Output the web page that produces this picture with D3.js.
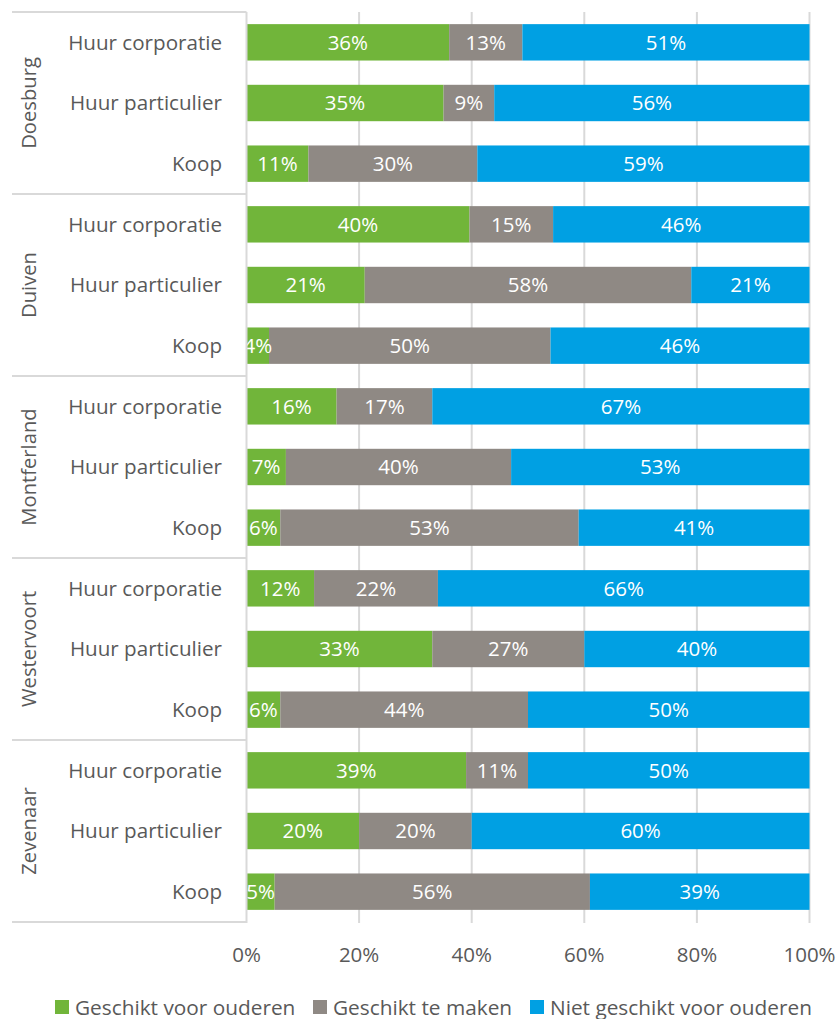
<!DOCTYPE html>
<html>
<head>
<meta charset="utf-8">
<script src="https://cdn.jsdelivr.net/npm/d3@7"></script>
<style>
  html, body { margin: 0; padding: 0; background: #fff; }
  svg text { font-family: "Open Sans", "Noto Sans", sans-serif; }
</style>
</head>
<body>
<svg id="chart" width="839" height="1019"></svg>
<script>
// Woningvoorraad per gemeente en eigendomsvorm: geschiktheid voor ouderen
const gemeenten = ["Doesburg", "Duiven", "Montferland", "Westervoort", "Zevenaar"];
const eigendom = ["Huur corporatie", "Huur particulier", "Koop"];
const reeksen = ["Geschikt voor ouderen", "Geschikt te maken", "Niet geschikt voor ouderen"];
const kleuren = ["#71B53A", "#8F8984", "#00A0E3"];

// Percentages per rij (gemeente × eigendomsvorm), per reeks
const geschikt    = [36, 35, 11, 40, 21, 4, 16, 7, 6, 12, 33, 6, 39, 20, 5];
const teMaken     = [13, 9, 30, 15, 58, 50, 17, 40, 53, 22, 27, 44, 11, 20, 56];
const nietGeschikt = [51, 56, 59, 46, 21, 46, 67, 53, 41, 66, 40, 50, 50, 60, 39];

const tickWaarden = [0, 0.2, 0.4, 0.6, 0.8, 1];

const rows = [];
gemeenten.forEach((g, gi) => {
  eigendom.forEach((e, ei) => {
    const i = gi * 3 + ei;
    rows.push({ key: g + "|" + e, gemeente: g, eigendom: e,
      s0: geschikt[i], s1: teMaken[i], s2: nietGeschikt[i] });
  });
});

const svg = d3.select("#chart");
const plotL = 246.5, plotR = 809.5, plotT = 12, plotB = 922;
const textColor = "#595959";
const gridColor = "#D9D9D9";

const x = d3.scaleLinear().domain([0, 1]).range([plotL, plotR]);
const y = d3.scaleBand().domain(rows.map(r => r.key)).range([plotT, plotB]).paddingInner(0.4).paddingOuter(0.2);
const band = (plotB - plotT) / rows.length;

const stack = d3.stack().keys(["s0", "s1", "s2"]).offset(d3.stackOffsetExpand);
const series = stack(rows);

// verticale rasterlijnen
svg.append("g").selectAll("line").data(tickWaarden.slice(1)).join("line")
  .attr("x1", d => x(d)).attr("x2", d => x(d))
  .attr("y1", plotT).attr("y2", plotB + 1)
  .attr("stroke", gridColor).attr("stroke-width", 2);

// balken
const lagen = svg.append("g").selectAll("g").data(series).join("g")
  .attr("fill", (d, i) => kleuren[i]);
lagen.selectAll("rect").data(d => d).join("rect")
  .attr("x", d => x(d[0]))
  .attr("width", d => x(d[1]) - x(d[0]))
  .attr("y", d => y(d.data.key))
  .attr("height", y.bandwidth());

// waardelabels
const labelKeys = ["s0", "s1", "s2"];
series.forEach((s, si) => {
  svg.append("g").selectAll("text").data(s).join("text")
    .attr("x", d => (x(d[0]) + x(d[1])) / 2)
    .attr("y", d => y(d.data.key) + y.bandwidth() / 2)
    .attr("dy", "0.36em")
    .attr("text-anchor", "middle")
    .attr("fill", "#fff")
    .attr("font-size", 20.5)
    .text(d => d.data[labelKeys[si]] + "%");
});

// linkeras en groepsscheidingen
svg.append("line")
  .attr("x1", plotL).attr("x2", plotL).attr("y1", plotT).attr("y2", plotB + 1)
  .attr("stroke", gridColor).attr("stroke-width", 2);
svg.append("g").selectAll("line").data(d3.range(gemeenten.length + 1)).join("line")
  .attr("x1", 12).attr("x2", plotL)
  .attr("y1", i => plotT + i * band * 3).attr("y2", i => plotT + i * band * 3)
  .attr("stroke", gridColor).attr("stroke-width", 2);

// categorielabels
svg.append("g").selectAll("text").data(rows).join("text")
  .attr("x", 222)
  .attr("y", d => y(d.key) + y.bandwidth() / 2)
  .attr("dy", "0.36em")
  .attr("text-anchor", "end")
  .attr("fill", textColor)
  .attr("font-size", 20.6)
  .text(d => d.eigendom);

// gemeentelabels (gedraaid)
svg.append("g").selectAll("text").data(gemeenten).join("text")
  .attr("transform", (d, i) => `translate(35.5, ${plotT + (i + 0.5) * band * 3}) rotate(-90)`)
  .attr("text-anchor", "middle")
  .attr("fill", textColor)
  .attr("font-size", 20.2)
  .text(d => d);

// x-as tickwaarden
svg.append("g").selectAll("text").data(tickWaarden).join("text")
  .attr("x", d => x(d))
  .attr("y", 955)
  .attr("dy", "0.36em")
  .attr("text-anchor", "middle")
  .attr("fill", textColor)
  .attr("font-size", 20.5)
  .text(d => d3.format(".0%")(d));

// legenda
const legX = [55, 313, 530];
const leg = svg.append("g").selectAll("g").data(reeksen).join("g")
  .attr("transform", (d, i) => `translate(${legX[i]}, 1007)`);
leg.append("rect").attr("x", 0).attr("y", -7).attr("width", 14).attr("height", 14)
  .attr("fill", (d, i) => kleuren[i]);
leg.append("text").attr("x", 20).attr("dy", "0.36em")
  .attr("fill", textColor).attr("font-size", 20.8)
  .text(d => d);
</script>
</body>
</html>
